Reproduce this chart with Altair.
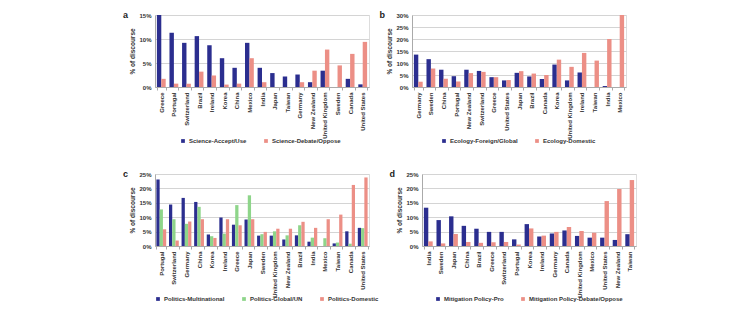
import altair as alt
import pandas as pd

# ---------------- data ----------------
a_countries = ["Greece", "Portugal", "Switzerland", "Brazil", "Ireland", "Korea", "China", "Mexico",
               "India", "Japan", "Taiwan", "Germany", "New Zealand", "United Kingdom", "Sweden",
               "Canada", "United States"]
a_series = ["Science-Accept/Use", "Science-Debate/Oppose"]
a_accept = [15.0, 11.3, 9.2, 10.6, 8.7, 6.0, 4.0, 9.2, 4.0, 2.9, 2.2, 2.6, 1.0, 3.4, 0.0, 1.7, 0.55]
a_debate = [1.7, 0.7, 0.7, 3.2, 2.4, 0.5, 0.7, 6.0, 1.0, 0.0, 0.0, 1.0, 3.4, 7.8, 4.5, 6.9, 9.4]

b_countries = ["Germany", "Sweden", "China", "Portugal", "New Zealand", "Switzerland", "Greece",
               "United States", "Japan", "Brazil", "Canada", "Korea", "United Kingdom", "Ireland",
               "Taiwan", "India", "Mexico"]
b_series = ["Ecology-Foreign/Global", "Ecology-Domestic"]
b_foreign = [13.5, 11.6, 7.2, 4.5, 7.2, 6.7, 4.1, 2.75, 5.9, 4.4, 3.3, 9.35, 2.75, 6.05, 0.0, 0.4, 0.0]
b_domestic = [2.2, 7.7, 3.4, 2.3, 5.8, 6.3, 4.1, 2.9, 6.6, 5.6, 5.0, 11.4, 8.4, 14.2, 11.0, 20.0, 30.0]

c_countries = ["Portugal", "Switzerland", "Germany", "China", "Korea", "Ireland", "Greece", "Japan",
               "Sweden", "United Kingdom", "New Zealand", "Brazil", "India", "Mexico", "Taiwan",
               "Canada", "United States"]
c_series = ["Politics-Multinational", "Politics-Global/UN", "Politics-Domestic"]
c_multi = [23.1, 14.4, 16.7, 15.3, 4.0, 9.9, 7.4, 9.2, 3.6, 3.6, 2.3, 3.7, 1.5, 0.0, 0.9, 5.1, 6.3]
c_global = [12.7, 9.3, 7.7, 13.6, 3.4, 4.3, 14.2, 17.6, 4.1, 5.1, 3.7, 7.2, 2.9, 2.7, 1.2, 0.8, 6.2]
c_domestic = [5.8, 1.9, 8.5, 9.3, 2.8, 9.3, 7.2, 9.3, 4.9, 6.0, 6.0, 8.4, 6.3, 9.3, 10.9, 21.2, 23.8]

d_countries = ["India", "Sweden", "Japan", "China", "Brazil", "Greece", "Switzerland", "Portugal",
               "Korea", "Ireland", "Germany", "Canada", "United Kingdom", "Mexico", "United States",
               "New Zealand", "Taiwan"]
d_series = ["Mitigation Policy-Pro", "Mitigation Policy-Debate/Oppose"]
d_pro = [13.3, 9.0, 10.3, 7.0, 6.0, 4.9, 4.9, 2.3, 7.6, 3.3, 4.3, 5.4, 3.5, 2.9, 2.9, 2.1, 4.1]
d_debate = [1.6, 0.9, 4.2, 1.4, 1.1, 1.3, 1.4, 0.5, 6.1, 3.6, 4.9, 6.6, 5.2, 4.6, 15.6, 19.8, 22.9]

BLUE = "#2B2E8F"
RED = "#EC8F86"
GREEN = "#8ED58A"
FONT = "Liberation Sans"


def panel(letter, countries, series, values, colors, ymax, step, pad_inner, lx, ly):
    rows = []
    for name, vals in zip(series, values):
        for c, v in zip(countries, vals):
            rows.append({"country": c, "series": name, "value": v})
    df = pd.DataFrame(rows)
    return alt.Chart(df).mark_bar().encode(
        x=alt.X("country:N", sort=countries, title=None,
                scale=alt.Scale(paddingInner=pad_inner, paddingOuter=pad_inner / 2),
                axis=alt.Axis(labelAngle=-90, labelFontSize=6, labelColor="#333", tickBand="extent",
                              tickSize=3, tickColor="#aaa", domainColor="#aaa", labelPadding=2,
                              labelFont=FONT, labelFontWeight="bold")),
        xOffset=alt.XOffset("series:N", sort=series, scale=alt.Scale(domain=series)),
        y=alt.Y("value:Q", scale=alt.Scale(domain=[0, ymax], nice=False), title="% of discourse",
                axis=alt.Axis(values=list(range(0, ymax + 1, step)), labelExpr="datum.value + '%'",
                              gridColor="#d4d4d4", ticks=False, domainColor="#aaa", labelFontSize=6,
                              labelColor="#333", labelFont=FONT, labelFontWeight="bold",
                              titleFontSize=6.5, titleFont=FONT, titleColor="#333",
                              titleFontWeight="bold", titlePadding=3, labelPadding=4)),
        color=alt.Color("series:N", sort=series,
                        scale=alt.Scale(domain=series, range=colors),
                        legend=alt.Legend(title=None, orient="none", legendX=lx, legendY=ly,
                                          direction="horizontal",
                                          symbolType="square", symbolSize=14, labelFontSize=6,
                                          labelFont=FONT, labelFontWeight="bold", labelColor="#333",
                                          columnPadding=16, labelOffset=3)),
    ).properties(
        width=214, height=72,
        title=alt.TitleParams(letter, orient="left", anchor="end", frame="group", angle=0,
                              baseline="middle", align="left", fontSize=9, fontWeight="bold",
                              font=FONT, color="#222", offset=2),
    )


pa = panel("a", a_countries, a_series, [a_accept, a_debate], [BLUE, RED], 15, 5, 0.3, 25, 123)
pb = panel("b", b_countries, b_series, [b_foreign, b_domestic], [BLUE, RED], 30, 5, 0.3, 29, 123)
pc = panel("c", c_countries, c_series, [c_multi, c_global, c_domestic], [BLUE, GREEN, RED], 25, 5, 0.22, 0, 122)
pd_ = panel("d", d_countries, d_series, [d_pro, d_debate], [BLUE, RED], 25, 5, 0.3, 13, 122)

ind = dict(color="independent", xOffset="independent", x="independent", y="independent")
chart = alt.vconcat(
    alt.hconcat(pa, pb, spacing=8).resolve_scale(**ind),
    alt.hconcat(pc, pd_, spacing=8).resolve_scale(**ind),
    spacing=24,
).resolve_scale(**ind).properties(
    padding={"left": 122, "top": 10, "right": 5, "bottom": 5}
).configure_view(stroke=None).configure(background="white")

chart.save("out.html", embed_options={"renderer": "svg", "actions": False})
